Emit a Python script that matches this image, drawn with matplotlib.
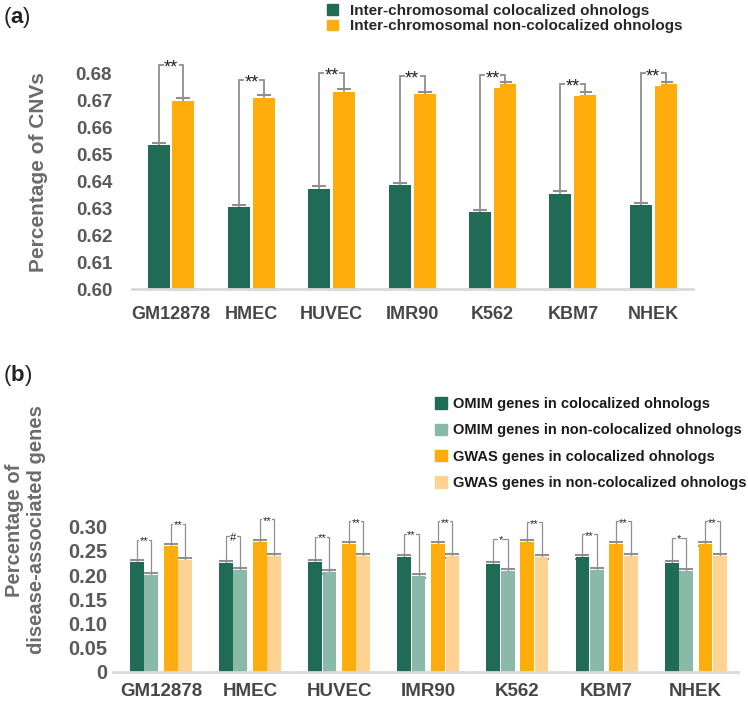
import matplotlib.pyplot as plt
import numpy as np
from matplotlib.patches import Patch

plt.rcParams['font.family'] = ['Liberation Sans', 'DejaVu Sans']
plt.rcParams['mathtext.fontset'] = 'custom'
plt.rcParams['mathtext.rm'] = 'Liberation Sans'
plt.rcParams['mathtext.bf'] = 'Liberation Sans:bold'

# data
cells = ['GM12878', 'HMEC', 'HUVEC', 'IMR90', 'K562', 'KBM7', 'NHEK']

# (a) fraction of CNVs
cnv_coloc = [0.6533, 0.6303, 0.6372, 0.6384, 0.6284, 0.6353, 0.6310]
cnv_noncoloc = [0.6697, 0.6710, 0.6730, 0.6722, 0.6759, 0.6721, 0.6759]
cnv_err = [0.001, 0.001, 0.001, 0.001, 0.001, 0.001, 0.001]
cnv_sig = ['**'] * 7
cnv_sig_top = [0.6832, 0.6776, 0.6802, 0.6791, 0.6793, 0.6762, 0.6800]

# (b) fraction of disease-associated genes
omim_coloc = [0.2273, 0.2252, 0.2273, 0.2376, 0.2238, 0.2376, 0.2252]
omim_noncoloc = [0.2010, 0.2100, 0.2066, 0.1980, 0.2080, 0.2114, 0.2085]
gwas_coloc = [0.2610, 0.2680, 0.2637, 0.2650, 0.2686, 0.2644, 0.2644]
gwas_noncoloc = [0.2320, 0.2400, 0.2400, 0.2390, 0.2368, 0.2390, 0.2400]
gene_err = [0.004] * 7
omim_sig = ['**', '#', '**', '**', '*', '**', '*']
omim_sig_top = [0.273, 0.280, 0.279, 0.285, 0.275, 0.284, 0.277]
gwas_sig = ['**'] * 7
gwas_sig_top = [0.306, 0.315, 0.311, 0.311, 0.309, 0.311, 0.311]

dark_green = '#1f6b56'
light_green = '#88b9a9'
orange = '#ffad0d'
light_orange = '#ffd291'
grey = '#8f8f8f'
axis_grey = '#d9d9d9'
tick_col = '#595959'
label_col = '#6b6b6b'
cat_col = '#474747'


def bracket(ax, x1, x2, y1, y2, top, text, fs, lw, off):
    ax.plot([x1, x1, x2, x2], [y1, top, top, y2], color=grey, lw=lw, zorder=1,
            solid_joinstyle='miter')
    ax.annotate(text, xy=((x1 + x2) / 2, top), xytext=(0, off),
                textcoords='offset points', ha='center', va='center',
                fontsize=fs, color='#222222', zorder=3,
                bbox=dict(facecolor='white', edgecolor='none', pad=0.3))


def style_axis(ax, ypad, xpad, ysize, xsize):
    for s in ['left', 'right', 'top']:
        ax.spines[s].set_visible(False)
    ax.spines['bottom'].set_color(axis_grey)
    ax.spines['bottom'].set_linewidth(2)
    ax.tick_params(axis='both', length=0)
    ax.tick_params(axis='y', pad=ypad, labelsize=ysize, labelcolor=tick_col)
    ax.tick_params(axis='x', pad=xpad, labelsize=xsize, labelcolor=cat_col)
    for t in ax.get_xticklabels() + ax.get_yticklabels():
        t.set_fontweight('bold')


fig = plt.figure(figsize=(7.48, 7.01), dpi=100)

# ---------------- panel (a)
ax1 = fig.add_axes([0.176, 0.5877, 0.750, 0.327])
x = np.arange(len(cells))
w = 0.274
off = 0.155
ax1.bar(x - off, cnv_coloc, w, color=dark_green, zorder=2)
ax1.bar(x + off, cnv_noncoloc, w, color=orange, zorder=2)
ax1.errorbar(x - off, cnv_coloc, yerr=cnv_err, fmt='none', ecolor=grey,
             elinewidth=1.2, capsize=5, capthick=1.5, zorder=1)
ax1.errorbar(x + off, cnv_noncoloc, yerr=cnv_err, fmt='none', ecolor=grey,
             elinewidth=1.2, capsize=5, capthick=1.5, zorder=1)
for i in range(len(cells)):
    bracket(ax1, x[i] - off, x[i] + off, cnv_coloc[i] + cnv_err[i],
            cnv_noncoloc[i] + cnv_err[i], cnv_sig_top[i], cnv_sig[i], 13, 1.3, -2.5)
ax1.set_xlim(-0.49, 6.49)
ax1.set_ylim(0.60, 0.685)
ax1.set_yticks([0.60, 0.61, 0.62, 0.63, 0.64, 0.65, 0.66, 0.67, 0.68])
ax1.set_yticklabels(['%.2f' % v for v in ax1.get_yticks()])
ax1.set_xticks(x)
ax1.set_xticklabels(cells)
style_axis(ax1, 14, 12, 13.5, 13)

fig.text(0.051, 0.7546, 'Percentage of CNVs', rotation=90, ha='center',
         va='center', fontsize=15, fontweight='bold', color=label_col)
fig.text(0.004, 1 - 18 / 701, r'($\mathbf{a}$)', fontsize=16, va='center',
         ha='left', color='#222222')

leg1 = fig.legend(handles=[Patch(color=dark_green), Patch(color=orange)],
                  labels=['Inter-chromosomal colocalized ohnologs',
                          'Inter-chromosomal non-colocalized ohnologs'],
                  loc='center left', bbox_to_anchor=(0.437, 1 - 18.5 / 701),
                  frameon=False, fontsize=11, handlelength=0.7, handleheight=0.7,
                  handletextpad=0.8, labelspacing=0.12, borderpad=0, borderaxespad=0)
for t in leg1.get_texts():
    t.set_fontweight('bold')
    t.set_color('#262626')

# ---------------- panel (b)
ax2 = fig.add_axes([0.151, 0.0414, 0.835, 0.2211])
w2 = 0.155
offs = [-0.27, -0.11, 0.11, 0.27]
series = [omim_coloc, omim_noncoloc, gwas_coloc, gwas_noncoloc]
cols = [dark_green, light_green, orange, light_orange]
for vals, o, c in zip(series, offs, cols):
    ax2.bar(x + o, vals, w2, color=c, zorder=2)
    ax2.errorbar(x + o, vals, yerr=gene_err, fmt='none', ecolor=grey,
                 elinewidth=1, capsize=5, capthick=1.5, zorder=1)
for i in range(len(cells)):
    bracket(ax2, x[i] + offs[0], x[i] + offs[1], omim_coloc[i] + gene_err[i],
            omim_noncoloc[i] + gene_err[i], omim_sig_top[i], omim_sig[i], 8, 0.9, -1)
    bracket(ax2, x[i] + offs[2], x[i] + offs[3], gwas_coloc[i] + gene_err[i],
            gwas_noncoloc[i] + gene_err[i], gwas_sig_top[i], gwas_sig[i], 8, 0.9, -1)
ax2.set_xlim(-0.54, 6.47)
ax2.set_ylim(0, 0.32)
ax2.set_yticks([0, 0.05, 0.10, 0.15, 0.20, 0.25, 0.30])
ax2.set_yticklabels(['0', '0.05', '0.10', '0.15', '0.20', '0.25', '0.30'])
ax2.set_xticks(x)
ax2.set_xticklabels(cells)
style_axis(ax2, 4, 8, 14.5, 13.5)

fig.text(0.034, 0.244, 'Percentage of\ndisease-associated genes', rotation=90,
         ha='center', va='center', fontsize=14.5, fontweight='bold',
         color=label_col, linespacing=1.25)
fig.text(0.004, 1 - 375 / 701, r'($\mathbf{b}$)', fontsize=16, va='center',
         ha='left', color='#222222')

leg2 = fig.legend(handles=[Patch(color=c) for c in cols],
                  labels=['OMIM genes in colocalized ohnologs',
                          'OMIM genes in non-colocalized ohnologs',
                          'GWAS genes in colocalized ohnologs',
                          'GWAS genes in non-colocalized ohnologs'],
                  loc='center left', bbox_to_anchor=(0.581, 1 - 443.5 / 701),
                  frameon=False, fontsize=10.5, handlelength=0.82, handleheight=0.82,
                  handletextpad=0.45, labelspacing=0.85, borderpad=0, borderaxespad=0)
for t in leg2.get_texts():
    t.set_fontweight('bold')
    t.set_color('#1a1a1a')

fig.savefig('out.png', dpi=100, facecolor='white')
